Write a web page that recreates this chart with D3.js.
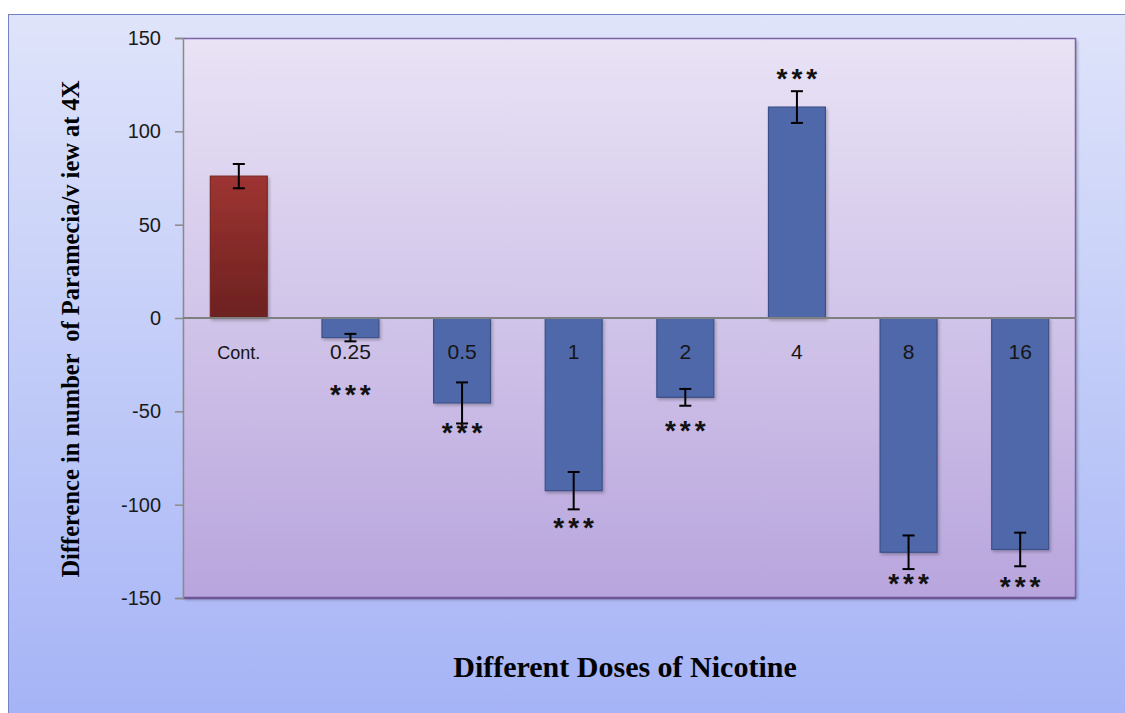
<!DOCTYPE html>
<html>
<head>
<meta charset="utf-8">
<script src="https://cdn.jsdelivr.net/npm/d3@7"></script>
<style>
  body { margin: 0; background: #fff; }
  svg { display: block; }
</style>
</head>
<body>
<div id="chart"></div>
<script>
// datos
const doses = ["Cont.", "0.25", "0.5", "1", "2", "4", "8", "16"];
const means = [76, -10.5, -45.5, -92.5, -42.5, 113, -125.5, -124];
const errors = [6.5, 2, 11, 10, 4.5, 8.5, 9, 9];
const starPos = [null, -37.5, -58, -108.5, -57, 132, -139, -140.5];
const yTicks = [150, 100, 50, 0, -50, -100, -150];

const W = 1125, H = 713;
const margin = { top: 38, right: 49, bottom: 115, left: 183 },
    width = W - margin.left - margin.right,
    height = H - margin.top - margin.bottom;

const svg = d3.select("#chart")
    .append("svg")
    .attr("width", W)
    .attr("height", H);

const defs = svg.append("defs");

const gOuter = defs.append("linearGradient")
    .attr("id", "outerGrad").attr("x1", 0).attr("y1", 0).attr("x2", 0).attr("y2", 1);
gOuter.append("stop").attr("offset", "0%").attr("stop-color", "#dfe4fa");
gOuter.append("stop").attr("offset", "100%").attr("stop-color", "#a3b2f6");

const gPlot = defs.append("linearGradient")
    .attr("id", "plotGrad").attr("x1", 0).attr("y1", 0).attr("x2", 0).attr("y2", 1);
gPlot.append("stop").attr("offset", "0%").attr("stop-color", "#e9e3f5");
gPlot.append("stop").attr("offset", "100%").attr("stop-color", "#b8a5dd");

const gCont = defs.append("linearGradient")
    .attr("id", "contGrad").attr("x1", 0).attr("y1", 0).attr("x2", 0).attr("y2", 1);
gCont.append("stop").attr("offset", "0%").attr("stop-color", "#9e3431");
gCont.append("stop").attr("offset", "100%").attr("stop-color", "#6c2121");

const shadow = defs.append("filter").attr("id", "shadow")
    .attr("x", "-10%").attr("y", "-10%").attr("width", "130%").attr("height", "130%");
shadow.append("feDropShadow").attr("dx", 1.5).attr("dy", 2).attr("stdDeviation", 1.5)
    .attr("flood-color", "#000").attr("flood-opacity", 0.25);

// marco exterior
svg.append("rect")
    .attr("x", 8.5).attr("y", 14.5)
    .attr("width", W + 10).attr("height", H + 10)
    .attr("fill", "url(#outerGrad)")
    .attr("stroke", "#7383c4");

const g = svg.append("g")
    .attr("transform", `translate(${margin.left},${margin.top})`);

const x = d3.scaleBand()
    .domain(doses)
    .range([0, width])
    .paddingInner(0.49)
    .paddingOuter(0.245);

const y = d3.scaleLinear()
    .domain([-150, 150])
    .range([height, 0]);

// área del gráfico
g.append("rect")
    .attr("width", width).attr("height", height)
    .attr("fill", "url(#plotGrad)")
    .attr("filter", "url(#shadow)");

g.append("path")
    .attr("d", `M0,0.5H${width - 0.5}V${height}`)
    .attr("fill", "none")
    .attr("stroke", "#7c62a6")
    .attr("stroke-width", 1.5);
g.append("line")
    .attr("x1", 0).attr("x2", width)
    .attr("y1", height).attr("y2", height)
    .attr("stroke", "#6e5596")
    .attr("stroke-width", 2.5);

// eje y
const yAxis = d3.axisLeft(y)
    .tickValues(yTicks)
    .tickFormat(d => String(d))
    .tickSize(8)
    .tickPadding(14);

const yG = g.append("g")
    .attr("class", "axis y-axis")
    .call(yAxis);
yG.select(".domain").attr("stroke", "#8a8a8a").attr("stroke-width", 1.5);
yG.selectAll(".tick line").attr("stroke", "#8a8a8a").attr("stroke-width", 1.5);
yG.selectAll(".tick text")
    .attr("font-family", "'Liberation Sans', Arial, sans-serif")
    .attr("font-size", 20)
    .attr("fill", "#1a1a1a");

// barras
g.selectAll(".bar")
    .data(means)
    .join("rect")
    .attr("class", "bar")
    .attr("x", (d, i) => x(doses[i]))
    .attr("width", x.bandwidth())
    .attr("y", d => y(Math.max(0, d)))
    .attr("height", d => Math.abs(y(d) - y(0)))
    .attr("fill", (d, i) => i === 0 ? "url(#contGrad)" : "#5068aa")
    .attr("stroke", (d, i) => i === 0 ? "#7a2a28" : "#3c5088")
    .attr("stroke-width", 1.2)
    .attr("filter", "url(#shadow)");

// línea cero
g.append("line")
    .attr("x1", 0).attr("x2", width)
    .attr("y1", y(0)).attr("y2", y(0))
    .attr("stroke", "#7f7f7f")
    .attr("stroke-width", 1.8);

// barras de error
const capW = 6;
const err = g.selectAll(".err")
    .data(means)
    .join("g")
    .attr("class", "err")
    .attr("transform", (d, i) => `translate(${x(doses[i]) + x.bandwidth() / 2},0)`)
    .attr("stroke", "#000")
    .attr("stroke-width", 2);
err.append("line")
    .attr("y1", (d, i) => y(d + errors[i]))
    .attr("y2", (d, i) => y(d - errors[i]));
err.append("line")
    .attr("x1", -capW).attr("x2", capW)
    .attr("y1", (d, i) => y(d + errors[i]))
    .attr("y2", (d, i) => y(d + errors[i]));
err.append("line")
    .attr("x1", -capW).attr("x2", capW)
    .attr("y1", (d, i) => y(d - errors[i]))
    .attr("y2", (d, i) => y(d - errors[i]));

// etiquetas de dosis
g.selectAll(".dose")
    .data(doses)
    .join("text")
    .attr("class", "dose")
    .attr("x", d => x(d) + x.bandwidth() / 2)
    .attr("y", y(0) + 41)
    .attr("text-anchor", "middle")
    .attr("font-family", "'Liberation Sans', Arial, sans-serif")
    .attr("font-size", (d, i) => i === 0 ? 18 : 21)
    .attr("fill", "#151515")
    .text(d => d);

// asteriscos de significancia
g.selectAll(".star")
    .data(starPos.map((s, i) => ({ s, i })).filter(d => d.s !== null))
    .join("text")
    .attr("class", "star")
    .attr("x", d => x(doses[d.i]) + x.bandwidth() / 2 + 2)
    .attr("y", d => y(d.s) + 16)
    .attr("text-anchor", "middle")
    .attr("font-family", "'Liberation Sans', Arial, sans-serif")
    .attr("font-size", 28)
    .attr("font-weight", "bold")
    .attr("letter-spacing", 4)
    .attr("fill", "#111")
    .text("***");

// títulos de los ejes
svg.append("text")
    .attr("transform", `translate(79,${329}) rotate(-90)`)
    .attr("text-anchor", "middle")
    .attr("font-family", "'Liberation Serif', 'Times New Roman', serif")
    .attr("font-weight", "bold")
    .attr("font-size", 24.5)
    .attr("fill", "#000")
    .attr("xml:space", "preserve")
    .text("Difference in number  of Paramecia/v iew at 4X");

svg.append("text")
    .attr("x", 625)
    .attr("y", 677)
    .attr("text-anchor", "middle")
    .attr("font-family", "'Liberation Serif', 'Times New Roman', serif")
    .attr("font-weight", "bold")
    .attr("font-size", 30)
    .attr("fill", "#000")
    .text("Different Doses of Nicotine");
</script>
</body>
</html>
